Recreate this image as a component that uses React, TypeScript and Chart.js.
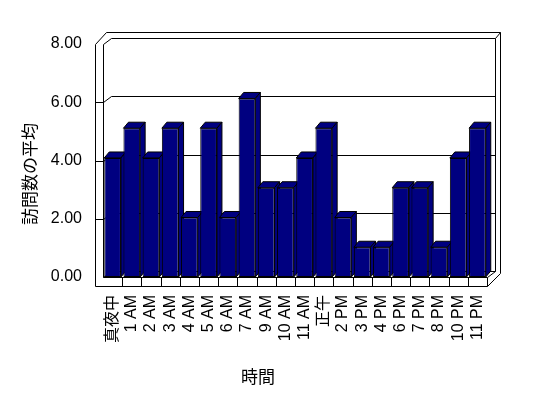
import { useEffect, useRef } from "react";
import { Chart, registerables } from "chart.js";

Chart.register(...registerables);

const categories = ["真夜中", "1 AM", "2 AM", "3 AM", "4 AM", "5 AM", "6 AM", "7 AM", "9 AM", "10 AM", "11 AM", "正午", "2 PM", "3 PM", "4 PM", "6 PM", "7 PM", "8 PM", "10 PM", "11 PM"];
const visits = [4, 5, 4, 5, 2, 5, 2, 6, 3, 3, 4, 5, 2, 1, 1, 3, 3, 1, 4, 5];
const yTickValues = [0, 2, 4, 6, 8];
const yTitle = "訪問数の平均";
const xTitle = "時間";

const FONT = "'Liberation Sans', 'Noto Sans CJK JP', sans-serif";
const JP_FONT = "'Noto Sans CJK JP', sans-serif";
const NAVY = "#000080";
const WALL_DX = 8;
const WALL_DY = -6;
const BAR_DX = 5;
const BAR_DY = -6;

const frame3d = {
  id: "frame3d",
  beforeDatasetsDraw(chart: any) {
    const ctx = chart.ctx as CanvasRenderingContext2D;
    const { left: L, right: R, top: T, bottom: B } = chart.chartArea;
    const ys = chart.scales.y;
    const wallX = L - 8;
    const floorB = B + 9;
    const bL = L + WALL_DX;
    const bR = R + WALL_DX;
    const p = (v: number) => Math.round(v) + 0.5;
    const poly = (pts: number[][], close = false) => {
      ctx.beginPath();
      ctx.moveTo(p(pts[0][0]), p(pts[0][1]));
      for (let i = 1; i < pts.length; i++) ctx.lineTo(p(pts[i][0]), p(pts[i][1]));
      if (close) ctx.closePath();
      ctx.stroke();
    };
    ctx.save();
    ctx.strokeStyle = "#000";
    ctx.lineWidth = 1;
    // outer silhouette
    poly([
      [wallX, floorB],
      [wallX, T],
      [wallX + 11, T - 12],
      [bR + 5, T - 12],
      [bR + 5, B - 4],
      [R, floorB],
    ], true);
    // left wall inner face
    poly([[L, B], [L, T], [bL, T + WALL_DY]]);
    // back wall
    poly([[bL, T + WALL_DY], [bR, T + WALL_DY], [bR, B + WALL_DY]]);
    poly([[bR, T + WALL_DY], [bR + 5, T - 12]]);
    // floor
    poly([[L, B], [R, B], [R, floorB]]);
    poly([[R, B], [bR, B + WALL_DY]]);
    poly([[L, B], [bL, B + WALL_DY], [bR, B + WALL_DY]]);
    // gridlines
    for (const v of yTickValues) {
      if (v === 0 || v === 8) continue;
      const fy = ys.getPixelForValue(v);
      poly([[wallX, fy], [L, fy], [bL, fy + WALL_DY], [bR, fy + WALL_DY]]);
    }
    // category separators on floor front
    const slot = (R - L) / categories.length;
    for (let i = 1; i < categories.length; i++) {
      const x = L + i * slot;
      poly([[x, B], [x, floorB]]);
    }
    // 3D faces of bars
    const meta = chart.getDatasetMeta(0);
    ctx.fillStyle = NAVY;
    for (const el of meta.data) {
      const { x, y, base, width } = el.getProps(["x", "y", "base", "width"], true);
      const l = x - width / 2;
      const r = x + width / 2;
      ctx.beginPath();
      ctx.moveTo(l, y);
      ctx.lineTo(r, y);
      ctx.lineTo(r + BAR_DX, y + BAR_DY);
      ctx.lineTo(l + BAR_DX, y + BAR_DY);
      ctx.closePath();
      ctx.fill();
      ctx.stroke();
      ctx.beginPath();
      ctx.moveTo(r, y);
      ctx.lineTo(r + BAR_DX, y + BAR_DY);
      ctx.lineTo(r + BAR_DX, base + BAR_DY);
      ctx.lineTo(r, base);
      ctx.closePath();
      ctx.fill();
      ctx.stroke();
    }
    ctx.restore();
  },
  afterDraw(chart: any) {
    const ctx = chart.ctx as CanvasRenderingContext2D;
    ctx.save();
    ctx.fillStyle = "#000";
    ctx.font = `17px ${JP_FONT}`;
    ctx.textAlign = "center";
    ctx.textBaseline = "middle";
    ctx.translate(30, 174);
    ctx.rotate(-Math.PI / 2);
    ctx.fillText(yTitle, 0, 0);
    ctx.restore();
    ctx.save();
    ctx.fillStyle = "#000";
    ctx.font = `17px ${JP_FONT}`;
    ctx.textAlign = "center";
    ctx.textBaseline = "middle";
    ctx.fillText(xTitle, 258, 377);
    ctx.restore();
  },
};

export default function App() {
  const ref = useRef<HTMLCanvasElement | null>(null);
  useEffect(() => {
    if (!ref.current) return;
    const chart = new Chart(ref.current, {
      type: "bar",
      data: {
        labels: categories,
        datasets: [
          {
            data: visits,
            yAxisID: "yb",
            backgroundColor: NAVY,
            borderColor: "#000",
            borderWidth: 1,
            borderSkipped: false,
            barPercentage: 0.87,
            categoryPercentage: 1,
          },
        ],
      },
      options: {
        animation: false,
        responsive: false,
        devicePixelRatio: 1,
        layout: { padding: { left: 0, right: 61, top: 44, bottom: 0 } },
        plugins: { legend: { display: false }, tooltip: { enabled: false } },
        scales: {
          x: {
            grid: { display: false, drawTicks: false },
            border: { display: false },
            ticks: {
              autoSkip: false,
              minRotation: 90,
              maxRotation: 90,
              padding: 18,
              color: "#000",
              font: { family: FONT, size: 16 },
            },
            afterFit: (s: any) => {
              s.height = 121;
            },
          },
          y: {
            min: 0,
            max: 8,
            grid: { display: false, drawTicks: false },
            border: { display: false },
            ticks: {
              stepSize: 2,
              padding: 21,
              color: "#000",
              font: { family: FONT, size: 16 },
              callback: (v: any) => Number(v).toFixed(2),
            },
            afterFit: (s: any) => {
              s.width = 103;
            },
          },
          yb: {
            display: false,
            min: 0,
            max: 7.83,
          },
        },
      },
      plugins: [frame3d],
    });
    return () => chart.destroy();
  }, []);
  return (
    <div style={{ position: "fixed", left: 0, top: 0, width: 548, height: 398, background: "#fff" }}>
      <canvas ref={ref} width={548} height={398} style={{ display: "block" }} />
    </div>
  );
}
